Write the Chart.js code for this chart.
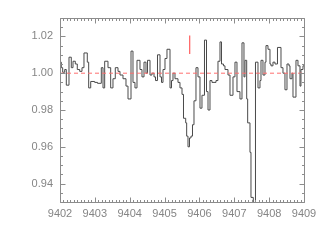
<!DOCTYPE html>
<html>
<head>
<meta charset="utf-8">
<script src="https://cdn.jsdelivr.net/npm/chart.js@4/dist/chart.umd.min.js"></script>
<style>
html, body { margin: 0; padding: 0; background: #fff; }
</style>
</head>
<body>
<canvas id="espectro" width="322" height="241"></canvas>
<script>
/*global Chart*/

// wavelength (Å) where each flux step starts
var wavelength = [
    9402.000, 9402.037, 9402.077, 9402.135, 9402.181, 9402.258, 9402.324, 9402.373, 9402.439, 9402.496,
    9402.565, 9402.631, 9402.688, 9402.783, 9402.823, 9402.881, 9402.995, 9403.076, 9403.185, 9403.234,
    9403.282, 9403.377, 9403.454, 9403.520, 9403.586, 9403.664, 9403.721, 9403.807, 9403.893, 9403.951,
    9404.037, 9404.094, 9404.151, 9404.209, 9404.295, 9404.352, 9404.410, 9404.467, 9404.510, 9404.582,
    9404.639, 9404.697, 9404.740, 9404.797, 9404.869, 9404.912, 9404.955, 9405.012, 9405.069, 9405.156,
    9405.199, 9405.242, 9405.299, 9405.385, 9405.442, 9405.500, 9405.543, 9405.606, 9405.634, 9405.672,
    9405.715, 9405.758, 9405.801, 9405.844, 9405.901, 9405.959, 9406.016, 9406.073, 9406.145, 9406.203,
    9406.246, 9406.303, 9406.360, 9406.475, 9406.532, 9406.590, 9406.633, 9406.690, 9406.733, 9406.819,
    9406.877, 9406.963, 9407.020, 9407.077, 9407.163, 9407.221, 9407.278, 9407.307, 9407.356, 9407.384,
    9407.450, 9407.479, 9407.545, 9407.608, 9407.680, 9407.737, 9407.766, 9407.823, 9407.881, 9407.909,
    9407.967, 9408.024, 9408.053, 9408.110, 9408.168, 9408.239, 9408.340, 9408.397, 9408.454, 9408.512,
    9408.569, 9408.598, 9408.655, 9408.684, 9408.770, 9408.827, 9408.885, 9408.913, 9408.971, 9409.000
];
var flux = [
    1.0060, 1.0030, 1.0005, 1.0020, 0.9935, 1.0087, 1.0030, 1.0065, 1.0050, 1.0020,
    1.0010, 1.0030, 1.0110, 1.0060, 0.9920, 0.9955, 0.9950, 0.9945, 1.0030, 0.9920,
    1.0065, 1.0030, 0.9920, 0.9970, 1.0030, 1.0010, 0.9990, 0.9970, 0.9930, 0.9860,
    1.0120, 0.9950, 0.9920, 1.0070, 1.0020, 0.9980, 1.0060, 1.0000, 1.0070, 0.9990,
    1.0000, 0.9980, 0.9960, 1.0100, 0.9980, 0.9950, 1.0020, 1.0080, 1.0130, 0.9920,
    0.9960, 1.0000, 0.9970, 0.9950, 0.9920, 0.9885, 0.9755, 0.9730, 0.9658, 0.9600,
    0.9648, 0.9658, 0.9720, 0.9850, 1.0030, 0.9980, 0.9810, 0.9880, 1.0180, 0.9900,
    0.9800, 0.9960, 0.9950, 0.9960, 1.0065, 1.0170, 1.0050, 1.0040, 1.0020, 0.9990,
    0.9880, 0.9980, 1.0060, 0.9900, 0.9860, 1.0165, 0.9980, 1.0070, 0.9860, 0.9730,
    0.9570, 0.9325, 0.9200, 1.0060, 0.9920, 0.9960, 1.0070, 0.9990, 1.0060, 1.0150,
    1.0130, 1.0050, 1.0040, 1.0060, 1.0050, 1.0140, 1.0030, 1.0000, 0.9910, 1.0050,
    1.0040, 0.9970, 1.0000, 0.9870, 1.0070, 1.0040, 0.9930, 1.0020, 1.0040, 1.0040
];

var continuumX = [9402, 9409];
var continuumY = [1.00, 1.00];
var markerX = [9405.72, 9405.72];
var markerY = [1.0105, 1.0205];

var xTicks = [9402, 9403, 9404, 9405, 9406, 9407, 9408, 9409];
var yTicks = [0.94, 0.96, 0.98, 1.00, 1.02];
var xMinorStep = 0.1;
var yMinorStep = 0.005;

var axisColor = "#8c8c8c";
var textColor = "#858585";

function toPoints(xs, ys) {
    "use strict";
    return xs.map(function (x, i) {
        return {x: x, y: ys[i]};
    });
}

// frame plus inward ticks on all four sides
var marcoIDL = {
    id: "marcoIDL",
    afterDatasetsDraw: function (chart) {
        "use strict";
        var ctx = chart.ctx;
        var area = chart.chartArea;
        var sx = chart.scales.x;
        var sy = chart.scales.y;
        var i, v, px, py, len;
        var nx = Math.round((sx.max - sx.min) / xMinorStep);
        var ny = Math.round((sy.max - sy.min) / yMinorStep);
        var left = Math.round(area.left) + 0.5;
        var right = Math.round(area.right) + 0.5;
        var top = Math.round(area.top) + 0.5;
        var bottom = Math.round(area.bottom) + 0.5;

        ctx.save();
        ctx.strokeStyle = axisColor;
        ctx.lineWidth = 1;
        ctx.beginPath();
        ctx.rect(left, top, right - left, bottom - top);

        for (i = 0; i <= nx; i += 1) {
            v = sx.min + i * xMinorStep;
            px = Math.round(sx.getPixelForValue(v)) + 0.5;
            len = (i % 10 === 0) ? 5 : 2.5;
            ctx.moveTo(px, bottom);
            ctx.lineTo(px, bottom - len);
            ctx.moveTo(px, top);
            ctx.lineTo(px, top + len);
        }
        for (i = 0; i <= ny; i += 1) {
            v = sy.min + i * yMinorStep;
            py = Math.round(sy.getPixelForValue(v)) + 0.5;
            len = (Math.abs(Math.round(v * 1000) % 20) === 0) ? 5 : 2.5;
            ctx.moveTo(left, py);
            ctx.lineTo(left + len, py);
            ctx.moveTo(right, py);
            ctx.lineTo(right - len, py);
        }
        ctx.stroke();
        ctx.restore();
    }
};

new Chart(document.getElementById("espectro"), {
    type: "line",
    data: {
        datasets: [{
            data: toPoints(continuumX, continuumY),
            borderColor: "#ff6e6e",
            borderWidth: 1,
            borderDash: [4, 3],
            pointRadius: 0
        }, {
            data: toPoints(markerX, markerY),
            borderColor: "#ff6a6a",
            borderWidth: 1.3,
            pointRadius: 0
        }, {
            data: toPoints(wavelength, flux),
            borderColor: "#4a4a4a",
            borderWidth: 1,
            stepped: true,
            pointRadius: 0
        }]
    },
    options: {
        responsive: false,
        animation: false,
        events: [],
        layout: {
            padding: {top: 18, right: 18, left: 0, bottom: 0}
        },
        plugins: {
            legend: {display: false},
            tooltip: {enabled: false}
        },
        scales: {
            x: {
                type: "linear",
                min: 9402,
                max: 9409,
                afterBuildTicks: function (scale) {
                    scale.ticks = xTicks.map(function (v) {
                        return {value: v};
                    });
                },
                afterFit: function (scale) {
                    scale.height = 39;
                },
                grid: {display: false, drawTicks: false},
                border: {display: false},
                ticks: {
                    color: textColor,
                    padding: 5,
                    maxRotation: 0,
                    autoSkip: false,
                    font: {family: "Liberation Sans", size: 11},
                    callback: function (value) {
                        return String(value);
                    }
                }
            },
            y: {
                type: "linear",
                min: 0.93,
                max: 1.03,
                afterBuildTicks: function (scale) {
                    scale.ticks = yTicks.map(function (v) {
                        return {value: v};
                    });
                },
                afterFit: function (scale) {
                    scale.width = 60;
                },
                grid: {display: false, drawTicks: false},
                border: {display: false},
                ticks: {
                    color: textColor,
                    padding: 7,
                    autoSkip: false,
                    font: {family: "Liberation Sans", size: 11},
                    callback: function (value) {
                        return value.toFixed(2);
                    }
                }
            }
        }
    },
    plugins: [marcoIDL]
});
</script>
</body>
</html>
